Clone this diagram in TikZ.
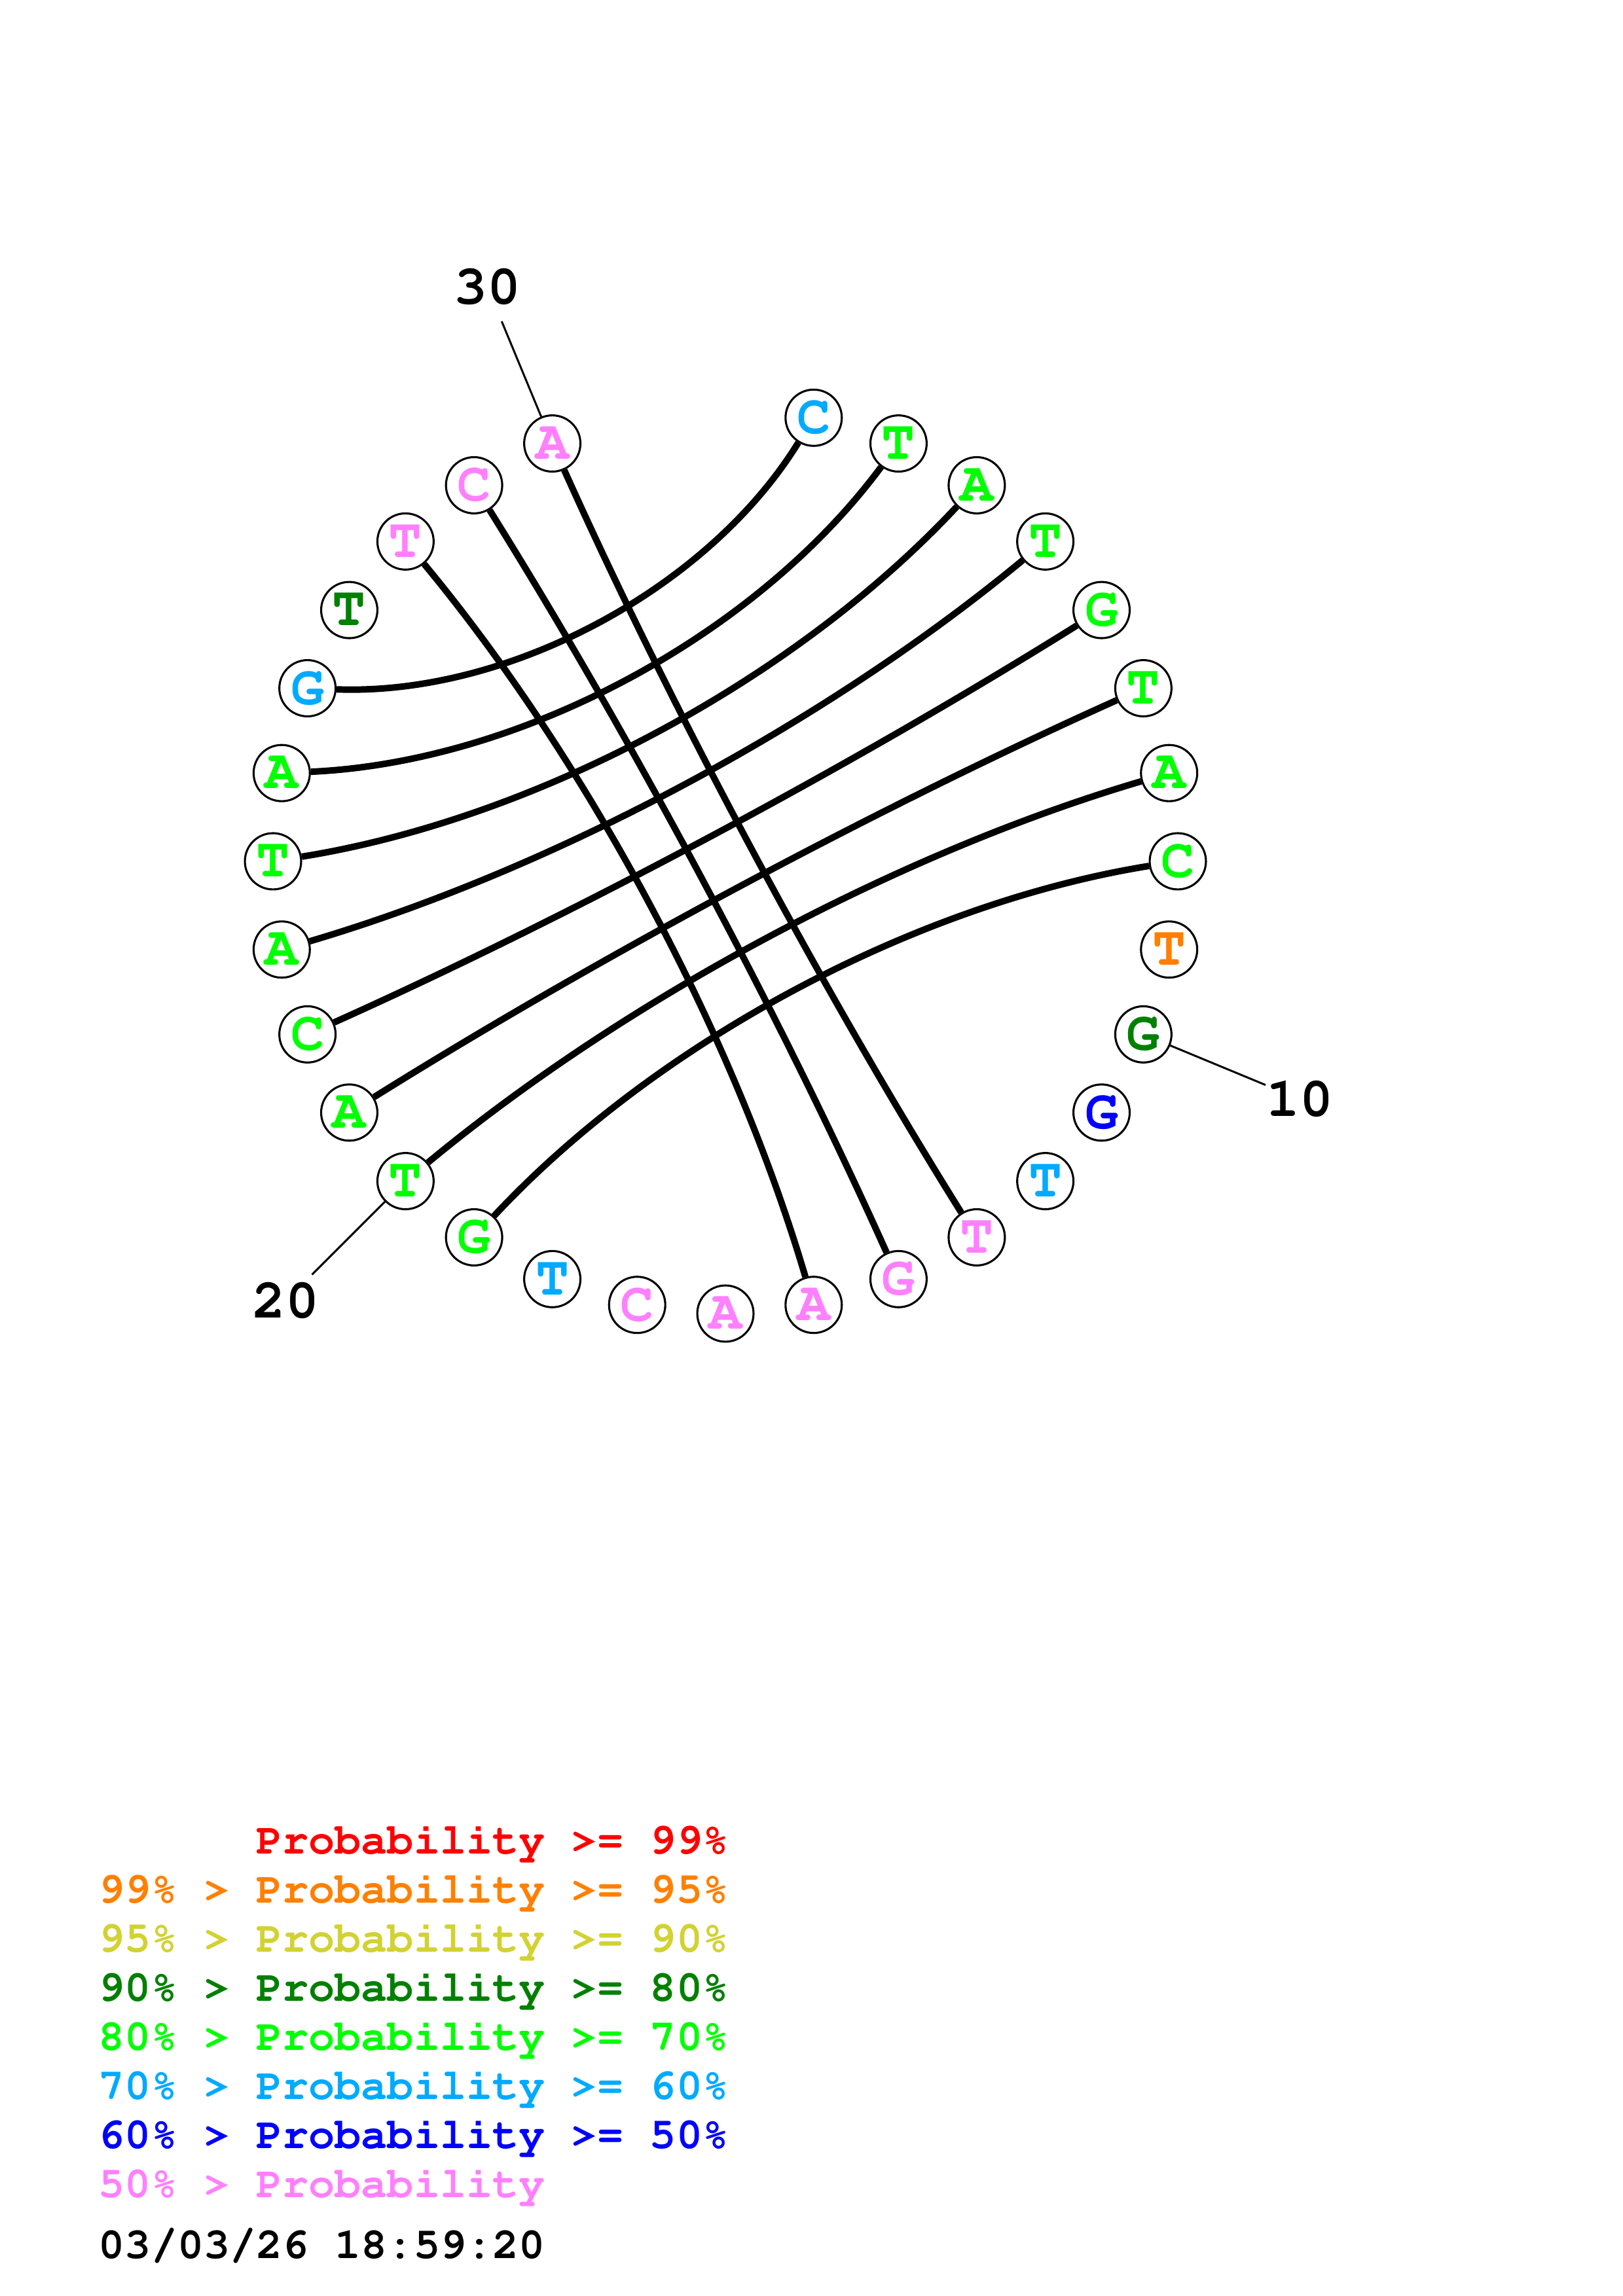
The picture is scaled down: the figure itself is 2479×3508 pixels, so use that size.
\documentclass[tikz,border=0pt]{standalone}
\usepackage[T1]{fontenc}
\usepackage{courier}
\definecolor{cRed}{RGB}{255,0,0}
\definecolor{cOrange}{RGB}{255,128,0}
\definecolor{cYellow}{RGB}{210,210,50}
\definecolor{cDkGreen}{RGB}{0,128,0}
\definecolor{cGreen}{RGB}{0,255,0}
\definecolor{cLtBlue}{RGB}{0,170,255}
\definecolor{cBlue}{RGB}{0,0,255}
\definecolor{cPink}{RGB}{255,128,255}
\begin{document}
\begin{tikzpicture}[x=0.2409pt,y=0.2409pt,
  base/.style={circle,draw=black,line width=0.75pt,fill=white,minimum size=20.7pt,inner sep=0pt,
    font=\fontsize{20.5}{24}\selectfont\ttfamily\bfseries},
  pair/.style={line width=2.4pt},
  lead/.style={line width=0.72pt},
  numlab/.style={inner sep=0pt,font=\fontsize{20.5}{24}\selectfont\ttfamily\bfseries},
  legend/.style={anchor=base west,inner sep=0pt,font=\fontsize{16.1}{19}\selectfont\ttfamily\bfseries}]
\useasboundingbox (0,0) rectangle (2479,3508);
\coordinate (O) at (1108,2192);
\foreach \i/\b/\c in {1/C/cLtBlue,2/T/cGreen,3/A/cGreen,4/T/cGreen,5/G/cGreen,6/T/cGreen,
  7/A/cGreen,8/C/cGreen,9/T/cOrange,10/G/cDkGreen,11/G/cBlue,12/T/cLtBlue,13/T/cPink,
  14/G/cPink,15/A/cPink,16/A/cPink,17/C/cPink,18/T/cLtBlue,19/G/cGreen,20/T/cGreen,
  21/A/cGreen,22/C/cGreen,23/A/cGreen,24/T/cGreen,25/A/cGreen,26/G/cLtBlue,27/T/cDkGreen,
  28/T/cPink,29/C/cPink,30/A/cPink}{
  \pgfmathsetmacro\ang{78.75-(\i-1)*11.25}
  \node[base,text=\c] (n\i) at ([shift={(\ang:691)}]O) {\b};
}
% base pairs
\draw[pair] (n1) to[out=238.4,in=-2.2,looseness=0.839] (n26);
\draw[pair] (n2) to[out=233.5,in=2.7,looseness=0.832] (n25);
\draw[pair] (n3) to[out=227.0,in=9.2,looseness=0.818] (n24);
\draw[pair] (n4) to[out=219.7,in=16.5,looseness=0.807] (n23);
\draw[pair] (n5) to[out=212.0,in=24.2,looseness=0.800] (n22);
\draw[pair] (n21) to[out=32.0,in=204.2,looseness=0.800] (n6);
\draw[pair] (n20) to[out=39.7,in=196.5,looseness=0.807] (n7);
\draw[pair] (n19) to[out=47.0,in=189.2,looseness=0.818] (n8);
\draw[pair] (n13) to[out=122.0,in=294.2,looseness=0.800] (n30);
\draw[pair] (n29) to[out=302.0,in=114.2,looseness=0.800] (n14);
\draw[pair] (n28) to[out=309.7,in=106.5,looseness=0.807] (n15);
% position labels
\coordinate (e10) at ([shift={(-22.5:893)}]O);
\coordinate (e20) at ([shift={(-135:893)}]O);
\coordinate (e30) at ([shift={(112.5:893)}]O);
\draw[lead] (n10) -- (e10);
\draw[lead] (n20) -- (e20);
\draw[lead] (n30) -- (e30);
\node[numlab] (l10) at ([shift={(-22.5:950)}]O) {10};
\node[numlab] (l20) at ([shift={(-135:950)}]O) {20};
\node[numlab] (l30) at ([shift={(112.5:950)}]O) {30};
% legend
\node[legend,text=cRed] (r1) at (150,675.4) {\phantom{99\% > }Probability >= 99\%};
\node[legend,text=cOrange] (r2) at (150,600.4) {99\% > Probability >= 95\%};
\node[legend,text=cYellow] (r3) at (150,525.4) {95\% > Probability >= 90\%};
\node[legend,text=cDkGreen] (r4) at (150,450.4) {90\% > Probability >= 80\%};
\node[legend,text=cGreen] (r5) at (150,375.4) {80\% > Probability >= 70\%};
\node[legend,text=cLtBlue] (r6) at (150,300.4) {70\% > Probability >= 60\%};
\node[legend,text=cBlue] (r7) at (150,225.4) {60\% > Probability >= 50\%};
\node[legend,text=cPink] (r8) at (150,150.4) {50\% > Probability};
\node[legend,text=black] (date) at (150,57) {03/03/26 18:59:20};
\end{tikzpicture}
\end{document}
